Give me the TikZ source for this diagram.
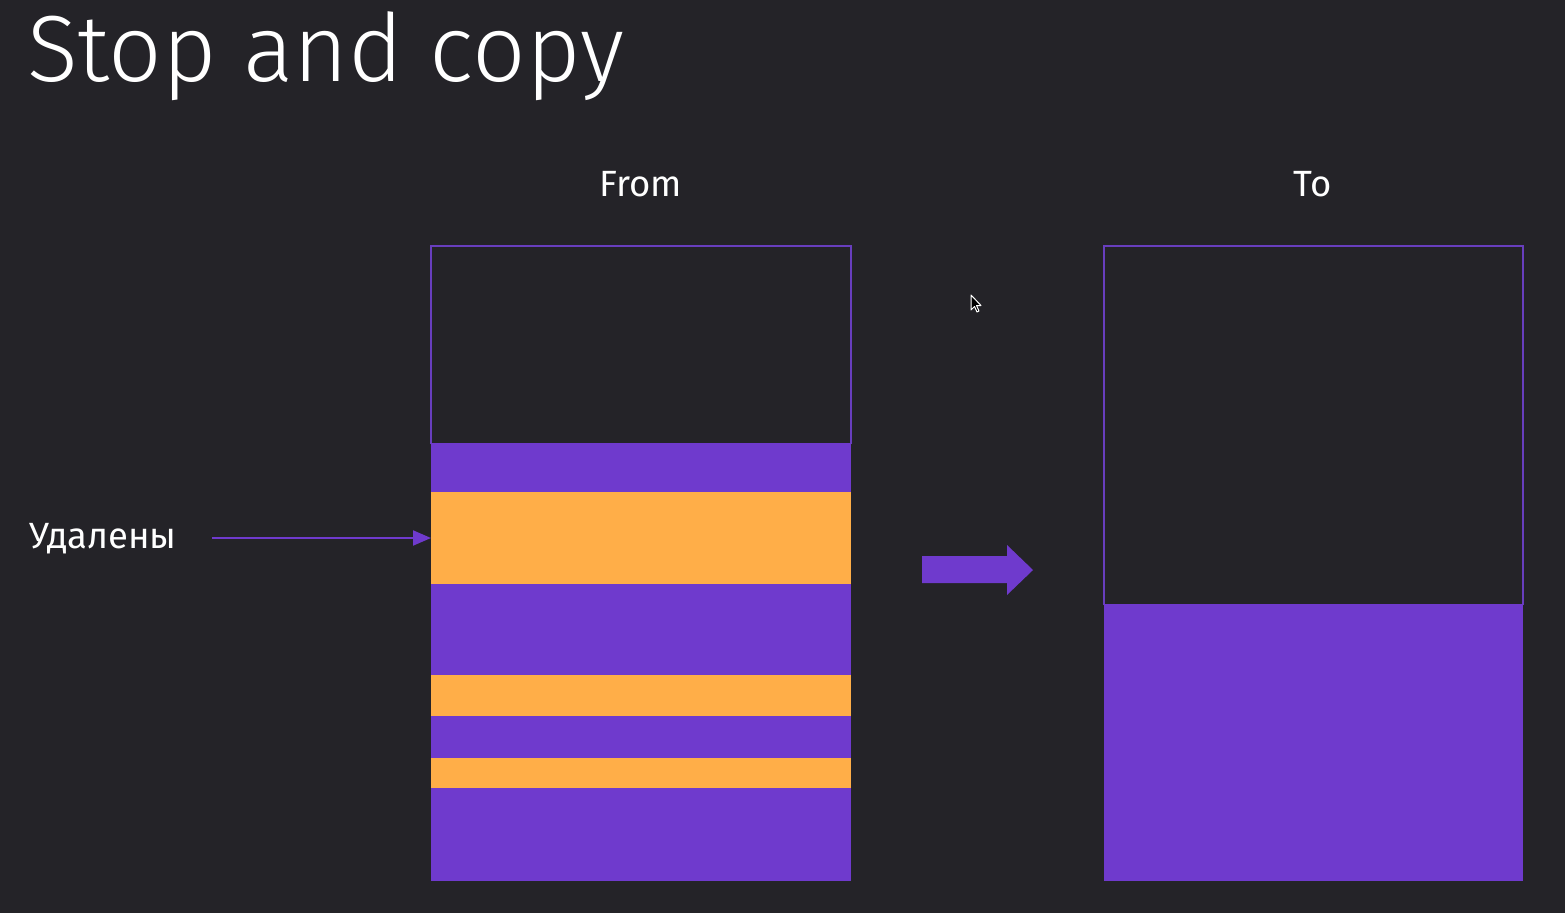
\documentclass[tikz,border=0pt]{standalone}
\usepackage{fontspec}
\setmainfont{Fira Sans}
\newfontfamily\titlefont{Fira Sans}[UprightFont={* Light}]
\usetikzlibrary{arrows.meta}

\definecolor{bgdark}{RGB}{36,35,40}
\definecolor{violet}{RGB}{111,58,205}
\definecolor{edgeviolet}{RGB}{104,62,190}
\definecolor{amber}{RGB}{255,174,72}

\tikzset{
  band/.style={anchor=north west, inner sep=0pt, outer sep=0pt, minimum width=420pt},
  label/.style={text=white, font=\fontsize{36.5}{42}\selectfont, inner sep=0pt}
}

\begin{document}
\begin{tikzpicture}[x=1pt, y=-1pt]

\useasboundingbox (0,0) rectangle (1565,913);
\fill[bgdark] (0,0) rectangle (1565,913);

\node (title) [anchor=base west, inner sep=0pt, text=white, font=\titlefont\fontsize{94}{104}\selectfont] at (27,81) {Stop and copy};

\node (fromlbl) [label] at (641,184) {From};
\node (tolbl) [label] at (1313,184) {To};

% from-space
\draw[edgeviolet, line width=2pt] (431,444) -- (431,246) -- (851,246) -- (851,444);
\node (f1) [band, fill=violet, minimum height=49pt] at (431,443) {};
\node (f2) [band, fill=amber, minimum height=92pt] at (431,492) {};
\node (f3) [band, fill=violet, minimum height=91pt] at (431,584) {};
\node (f4) [band, fill=amber, minimum height=41pt] at (431,675) {};
\node (f5) [band, fill=violet, minimum height=42pt] at (431,716) {};
\node (f6) [band, fill=amber, minimum height=30pt] at (431,758) {};
\node (f7) [band, fill=violet, minimum height=93pt] at (431,788) {};

% to-space
\draw[edgeviolet, line width=2pt] (1104,605) -- (1104,246) -- (1523,246) -- (1523,605);
\node (t1) [band, fill=violet, minimum width=419pt, minimum height=277pt] at (1104,604) {};

% deleted
\node (deleted) [label, anchor=west] at (29,539) {Удалены};
\coordinate (tail) at (212,538);
\draw[violet, line width=2pt, -{Triangle[length=18pt, width=15pt]}] (tail) -- (tail -| f2.west);

% copy arrow
\fill[violet] (922,556) -- (1007,556) -- (1007,545) -- (1033,570) -- (1007,595) -- (1007,583) -- (922,583) -- cycle;

% cursor
\filldraw[fill=black, draw=white, line width=1pt, line join=round]
  (971,295) -- (971,310) -- (974.5,306.5) -- (977,312) -- (979,311) -- (976.5,305.5) -- (981,305.5) -- cycle;

\end{tikzpicture}
\end{document}
